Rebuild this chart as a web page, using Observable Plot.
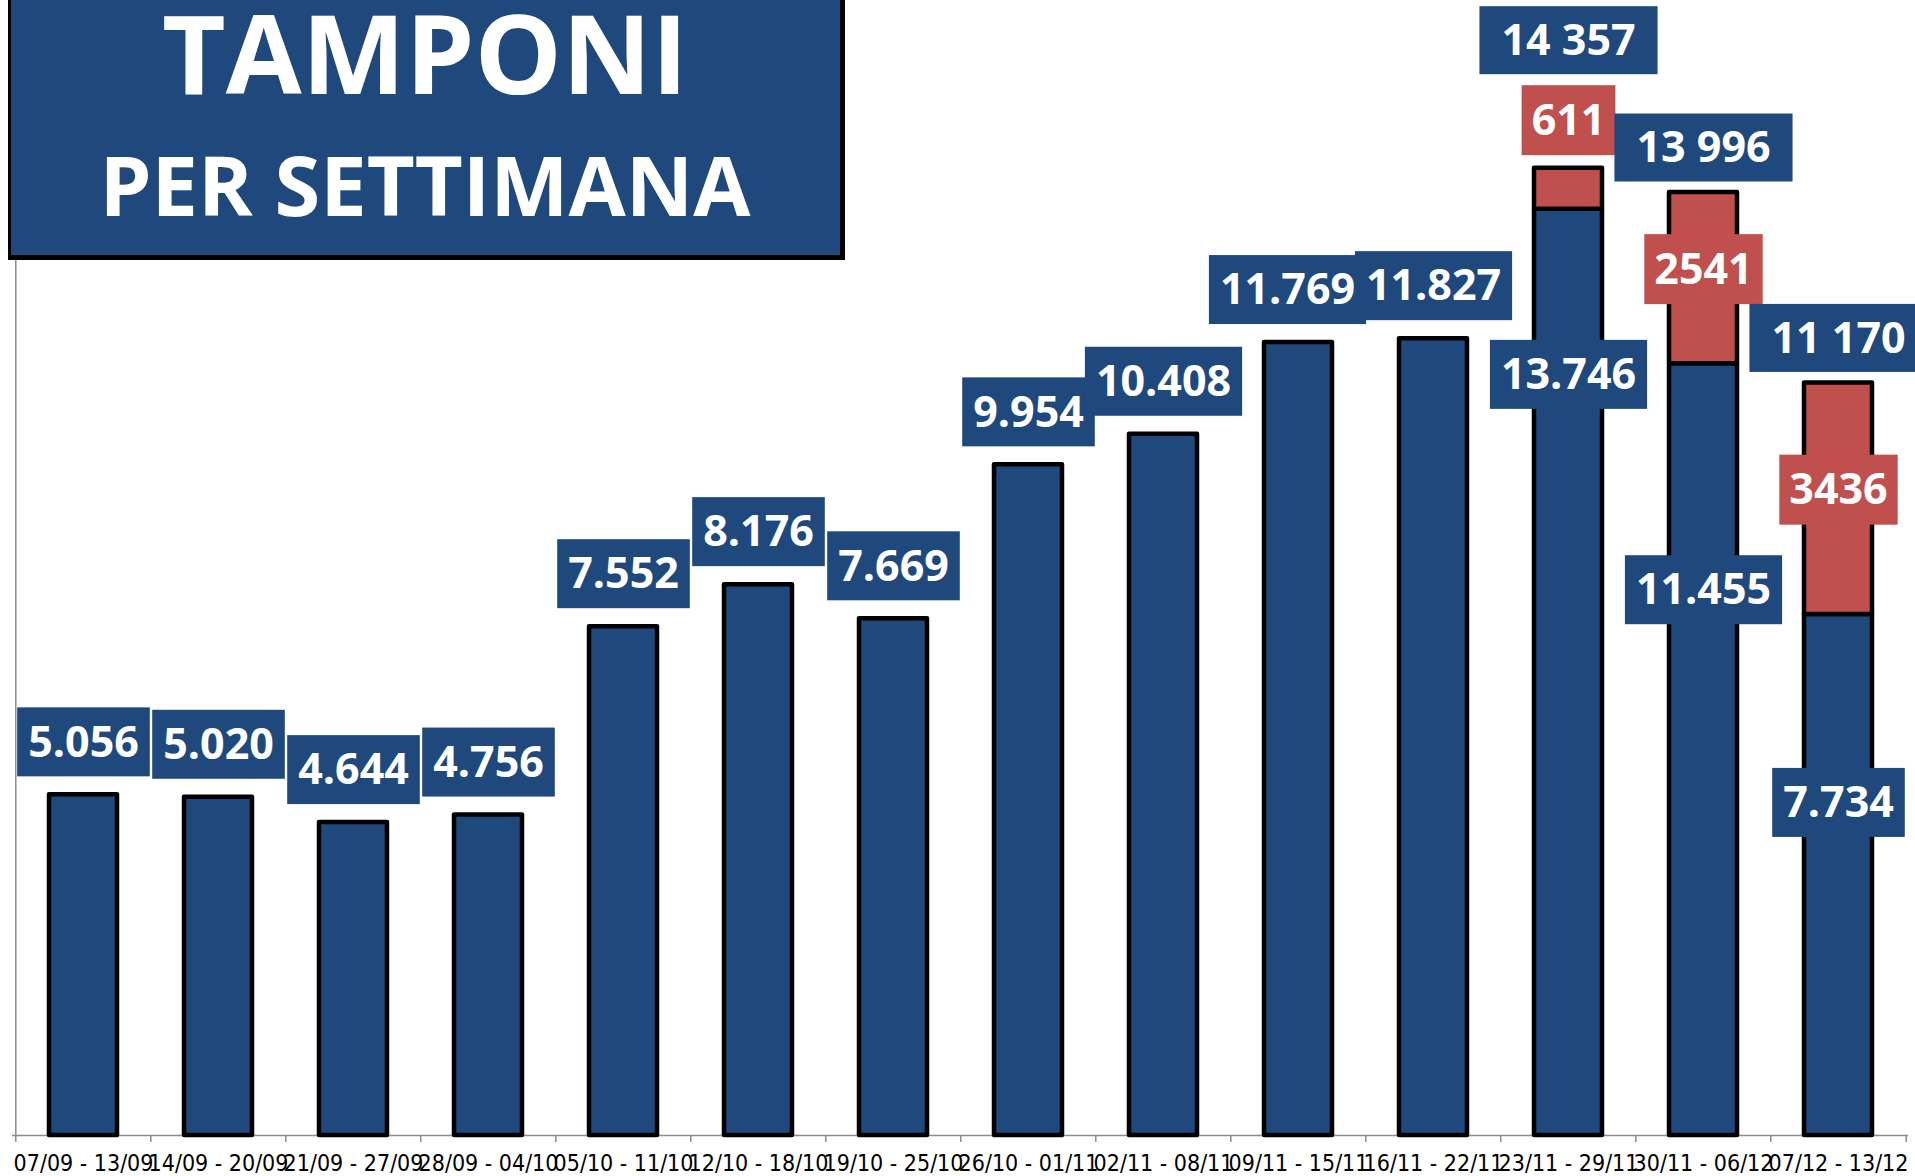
<!DOCTYPE html>
<html>
<head>
<meta charset="utf-8">
<script src="https://cdn.jsdelivr.net/npm/d3@7"></script>
<script src="https://cdn.jsdelivr.net/npm/@observablehq/plot@0.6"></script>
<style>
  html, body { margin: 0; padding: 0; background: #fff; overflow: hidden; }
  #wrap { position: relative; width: 1915px; height: 1176px; overflow: hidden; }
  #title { position: absolute; left: 0; top: 0; }
  #chart svg { overflow: hidden; }
</style>
</head>
<body>
<div id="wrap">
  <div id="chart"></div>
  <svg id="title" width="860" height="270">
    <rect x="8" y="-10" width="837" height="270" fill="#000"></rect>
    <rect x="11" y="-10" width="829" height="265" fill="#1F497D"></rect>
    <text x="425" y="94" text-anchor="middle" fill="#fff" font-family="Open Sans" font-weight="700" font-size="110">TAMPONI</text>
    <text x="425" y="216" text-anchor="middle" fill="#fff" font-family="Open Sans" font-weight="700" font-size="83">PER SETTIMANA</text>
  </svg>
</div>
<script>
// ---- data ----
const weeks = ["07/09 - 13/09", "14/09 - 20/09", "21/09 - 27/09", "28/09 - 04/10", "05/10 - 11/10",
  "12/10 - 18/10", "19/10 - 25/10", "26/10 - 01/11", "02/11 - 08/11", "09/11 - 15/11",
  "16/11 - 22/11", "23/11 - 29/11", "30/11 - 06/12", "07/12 - 13/12"];
const molecolari = [5056, 5020, 4644, 4756, 7552, 8176, 7669, 9954, 10408, 11769, 11827, 13746, 11455, 7734];
const rapidi = [0, 0, 0, 0, 0, 0, 0, 0, 0, 0, 0, 611, 2541, 3436];

// ---- layout ----
const W = 1915, H = 1176, ML = 12, MR = 7, MT = 57, MB = 41;
const step = (W - ML - MR) / weeks.length;
const BLUE = "#1F497D", RED = "#C0504D", GRAY = "#8C8C8C";
const innerBlueDy = {"23/11 - 29/11": 166, "30/11 - 06/12": 227, "07/12 - 13/12": 189};
const nudgeLeft = "09/11 - 15/11";   // label shifted left to clear its neighbour

const rows = weeks.map((w, i) => ({week: w, mol: molecolari[i], rap: rapidi[i], tot: molecolari[i] + rapidi[i]}));
const single = rows.filter(d => d.rap === 0);
const stacked = rows.filter(d => d.rap > 0);
const kpx = (H - MT - MB) / 16000;
const redAbove = d => d.rap * kpx < 75;   // segment too thin to hold its label

const fmtDot = d3.formatLocale({decimal: ",", thousands: ".", grouping: [3], currency: ["", ""]}).format(",d");
const fmtSpace = d3.formatLocale({decimal: ",", thousands: " ", grouping: [3], currency: ["", ""]}).format(",d");

// distinct spellings of white identify the three label families
const FB = "white", FR = "#fff", FT = "#ffffff";
const textStyle = {fontFamily: "Open Sans", fontWeight: 700, fontSize: 43, lineAnchor: "middle"};

const marks = [
  Plot.ruleX([weeks[0]], {x: d => d, dx: -step / 2, stroke: GRAY, strokeWidth: 1.5}),
  Plot.axisX({tickSize: 7, dx: -step / 2, tickFormat: () => "", stroke: GRAY, strokeWidth: 1.5, label: null}),
  Plot.axisX({ticks: [weeks[weeks.length - 1]], tickSize: 7, dx: step / 2, tickFormat: () => "", stroke: GRAY, strokeWidth: 1.5, label: null}),
  Plot.axisX({tickSize: 0, tickPadding: 19, fontSize: 23, fill: "#000", label: null,
    fontFamily: "'Liberation Sans Narrow', 'DejaVu Sans Condensed', 'Arial Narrow', sans-serif"}),
  Plot.ruleY([0], {stroke: GRAY, strokeWidth: 1.5}),
  Plot.barY(rows, {x: "week", y1: 0, y2: "mol", fill: BLUE, stroke: "#000", strokeWidth: 4.5, strokeLinejoin: "round"}),
  Plot.barY(stacked, {x: "week", y1: "mol", y2: "tot", fill: RED, stroke: "#000", strokeWidth: 4.5, strokeLinejoin: "round"}),
  Plot.text(single.filter(d => d.week !== nudgeLeft), {x: "week", y: "mol", text: d => fmtDot(d.mol), dy: -52, fill: FB, ...textStyle}),
  Plot.text(single.filter(d => d.week === nudgeLeft), {x: "week", y: "mol", text: d => fmtDot(d.mol), dy: -52, dx: -11, fill: FB, ...textStyle}),
  ...stacked.map(d => Plot.text([d], {x: "week", y: "mol", text: r => fmtDot(r.mol), dy: innerBlueDy[d.week], fill: FB, ...textStyle})),
  Plot.text(stacked.filter(redAbove), {x: "week", y: "tot", text: d => String(d.rap), dy: -47, fill: FR, ...textStyle}),
  Plot.text(stacked.filter(d => !redAbove(d)), {x: "week", y: d => (d.mol + d.tot) / 2, text: d => String(d.rap), dy: -8, fill: FR, ...textStyle}),
  Plot.text(stacked.filter(redAbove), {x: "week", y: "tot", text: d => fmtSpace(d.tot), dy: -127, fill: FT, ...textStyle}),
  Plot.text(stacked.filter(d => !redAbove(d)), {x: "week", y: "tot", text: d => fmtSpace(d.tot), dy: -44, fill: FT, ...textStyle})
];

const chart = Plot.plot({
  width: W, height: H,
  marginLeft: ML, marginRight: MR, marginTop: MT, marginBottom: MB,
  style: {background: "white", overflow: "hidden"},
  x: {type: "band", domain: weeks, paddingInner: 0.5, paddingOuter: 0.25, axis: null},
  y: {domain: [0, 16000], axis: null},
  marks
});
document.getElementById("chart").appendChild(chart);

// boxes behind labels (sized from the rendered text; centred on the text anchor)
function addBoxes(fillKey, color, padX, h) {
  chart.querySelectorAll(`g[fill="${fillKey}"] text`).forEach(t => {
    const b = t.getBBox();
    const r = document.createElementNS("http://www.w3.org/2000/svg", "rect");
    r.setAttribute("x", b.x - padX);
    r.setAttribute("width", b.width + 2 * padX);
    r.setAttribute("y", -h / 2 - 1);
    r.setAttribute("height", h);
    r.setAttribute("fill", color);
    const tr = t.getAttribute("transform");
    if (tr) r.setAttribute("transform", tr);
    t.parentNode.insertBefore(r, t);
  });
}
addBoxes(FB, BLUE, 11, 69);
addBoxes(FR, RED, 10, 70);
addBoxes(FT, BLUE, 22, 68);
</script>
</body>
</html>
